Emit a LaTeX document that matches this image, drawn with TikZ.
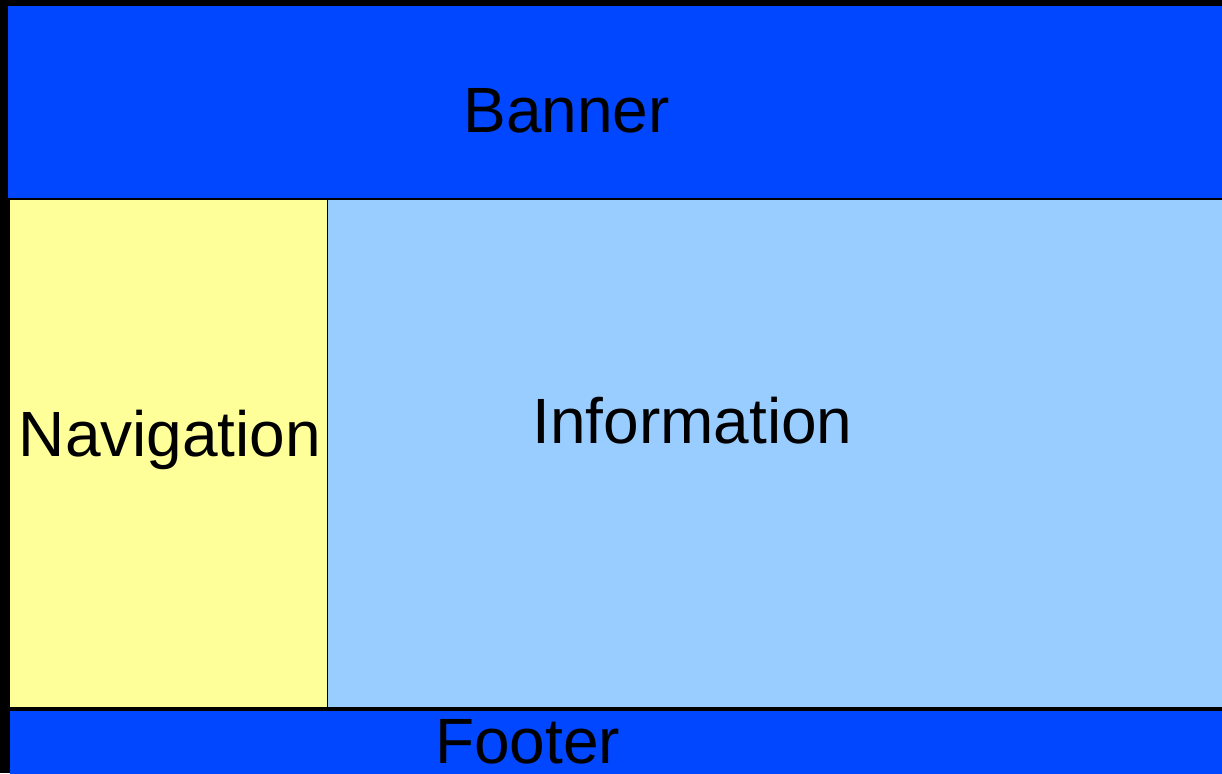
\documentclass[tikz,border=0pt]{standalone}
\usepackage{fontspec}
\setmainfont{Liberation Sans}
\definecolor{bannerblue}{HTML}{0047FF}
\definecolor{navyellow}{HTML}{FFFF99}
\definecolor{infoblue}{HTML}{99CCFF}
\tikzset{
  region/.style={draw=black, line width=1pt},
  label/.style={font=\fontsize{64}{70}\selectfont, text=black, anchor=base, inner sep=0pt}
}
\begin{document}
\begin{tikzpicture}[x=1pt,y=-1pt]
\fill[black] (0,0) rectangle (1222,773);
\useasboundingbox (0,0) rectangle (1222,773);
% regions
\filldraw[region, fill=bannerblue] (7,6) rectangle (1224,198.5);
\filldraw[region, fill=navyellow] (9.5,199) rectangle (327,707);
\filldraw[region, fill=infoblue] (327,199) rectangle (1224,707);
\fill[bannerblue] (10,711) rectangle (1224,775);
% labels
\node[label] (banner) at (566.5,132) {Banner};
\node[label] (nav) at (170,456) {Navigation};
\node[label] (info) at (692.5,443) {Information};
\node[label] (footer) at (527.5,763) {Footer};
\end{tikzpicture}
\end{document}
